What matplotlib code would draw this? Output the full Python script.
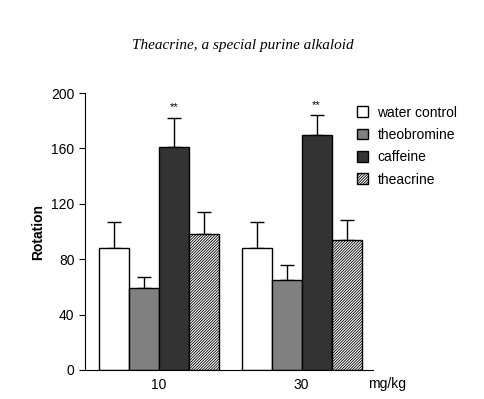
import numpy as np
import matplotlib.pyplot as plt

# doses and treatments
doses = ['10', '30']
groups = ['water control', 'theobromine', 'caffeine', 'theacrine']
means = {
    'water control': [88, 88],
    'theobromine': [59, 65],
    'caffeine': [161, 170],
    'theacrine': [98, 94],
}
errors = {
    'water control': [19, 19],
    'theobromine': [8, 11],
    'caffeine': [21, 14],
    'theacrine': [16, 14],
}
colors = {'water control': 'white', 'theobromine': '#808080',
          'caffeine': '#333333', 'theacrine': 'white'}
hatches = {'water control': None, 'theobromine': None,
           'caffeine': None, 'theacrine': '////////////'}

plt.rcParams['font.family'] = ['Liberation Sans', 'DejaVu Sans']
plt.rcParams['hatch.linewidth'] = 0.6
plt.rcParams['hatch.color'] = '#666666'

fig = plt.figure(figsize=(4.85, 3.99), dpi=100)
ax = fig.add_axes([0.175, 0.0727, 0.594, 0.694])

x = np.arange(len(doses))
w = 0.21
for i, g in enumerate(groups):
    pos = x + (i - 1.5) * w
    ax.bar(pos, means[g], w, color=colors[g], edgecolor='black',
           linewidth=1.0, hatch=hatches[g], label=g, zorder=2)
    ax.errorbar(pos, means[g], yerr=[np.zeros(2), errors[g]], fmt='none',
                ecolor='black', elinewidth=1.0, capsize=5, capthick=1.0, zorder=1)

# significance marks over caffeine
for j in range(len(doses)):
    ax.text(x[j] + 0.5 * w, means['caffeine'][j] + errors['caffeine'][j] + 4, '**',
            ha='center', va='bottom', fontsize=8)

ax.set_xlim(-0.52, 1.5)
ax.set_ylim(0, 200)
ax.set_yticks(range(0, 201, 40))
ax.set_xticks(x)
ax.set_xticklabels(doses, fontsize=10)
ax.tick_params(axis='x', length=0, pad=6)
ax.tick_params(axis='y', labelsize=10, length=4)
ax.spines['top'].set_visible(False)
ax.spines['right'].set_visible(False)
ax.set_ylabel('Rotation', fontsize=10, fontweight='bold')
ax.text(1.465, -0.025, 'mg/kg', transform=ax.get_xaxis_transform(),
        ha='left', va='top', fontsize=10)

ax.legend(loc='upper left', bbox_to_anchor=(0.9, 1.0), frameon=False,
          fontsize=10, handlelength=0.8, handleheight=0.8, handletextpad=0.7,
          labelspacing=0.6)

fig.text(0.5, 0.885, 'Theacrine, a special purine alkaloid', ha='center',
         va='center', fontsize=11, style='italic', family='Liberation Serif')

fig.savefig('out.png', dpi=100)
